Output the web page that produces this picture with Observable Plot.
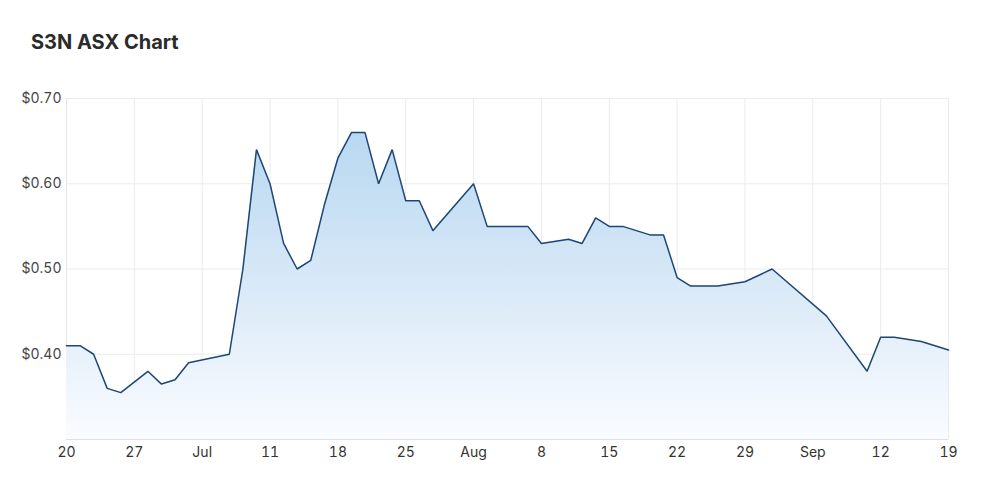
<!DOCTYPE html>
<html>
<head>
<meta charset="utf-8">
<script src="https://cdn.jsdelivr.net/npm/d3@7"></script>
<script src="https://cdn.jsdelivr.net/npm/@observablehq/plot@0.6"></script>
<style>
  html, body { margin: 0; padding: 0; background: #fff; }
  body { width: 1000px; height: 499px; position: relative; overflow: hidden; font-family: Inter, "Noto Sans", sans-serif; }
  #title { position: absolute; left: 31px; top: 30px; font-size: 20px; font-weight: 700; color: #2b2b2b; letter-spacing: 0; }
  #chart { position: absolute; left: 0; top: 70px; }
</style>
</head>
<body>
<div id="title">S3N ASX Chart</div>
<div id="chart"></div>
<script>
// Trading-day index (0 = Mon 20 Jun 2022, 5 trading days per week)
const tradingDay = [0, 1, 2, 3, 4, 6, 7, 8, 9, 12, 13, 14, 15, 16, 17, 18, 19, 20, 21, 22, 23, 24, 25, 26, 27, 30, 31, 34, 35, 37, 38, 39, 40, 41, 43, 44, 45, 46, 48, 50, 52, 56, 59, 60, 61, 63, 65];
const closePrice = [0.41, 0.41, 0.40, 0.36, 0.355, 0.38, 0.365, 0.37, 0.39, 0.40, 0.50, 0.64, 0.60, 0.53, 0.50, 0.51, 0.575, 0.63, 0.66, 0.66, 0.60, 0.64, 0.58, 0.58, 0.545, 0.60, 0.55, 0.55, 0.53, 0.535, 0.53, 0.56, 0.55, 0.55, 0.54, 0.54, 0.49, 0.48, 0.48, 0.485, 0.50, 0.445, 0.38, 0.42, 0.42, 0.415, 0.405];

// Weekly x ticks (Mondays) and their labels
const xTickDays = [0, 5, 10, 15, 20, 25, 30, 35, 40, 45, 50, 55, 60, 65];
const xTickLabels = ["20", "27", "Jul", "11", "18", "25", "Aug", "8", "15", "22", "29", "Sep", "12", "19"];

// Y ticks
const yTicks = [0.40, 0.50, 0.60, 0.70];
const yMin = 0.30, yMax = 0.70;

const data = tradingDay.map((d, i) => ({day: d, price: closePrice[i]}));
const labelOf = new Map(xTickDays.map((d, i) => [d, xTickLabels[i]]));

const gradientDefs = () => {
  const g = d3.create("svg:g");
  const grad = g.append("defs").append("linearGradient")
    .attr("id", "areaGrad").attr("x1", 0).attr("y1", 0).attr("x2", 0).attr("y2", 1);
  grad.append("stop").attr("offset", "0%").attr("stop-color", "#b8d8f1");
  grad.append("stop").attr("offset", "55%").attr("stop-color", "#dcebf8");
  grad.append("stop").attr("offset", "100%").attr("stop-color", "#fafcff");
  return g.node();
};

const chart = Plot.plot({
  width: 1000,
  height: 429,
  marginLeft: 66,
  marginRight: 52,
  marginTop: 28,
  marginBottom: 60,
  style: {fontFamily: "Inter, 'Noto Sans', sans-serif", fontSize: "14px", color: "#333", background: "#fff"},
  x: {domain: [0, 65]},
  y: {domain: [yMin, yMax]},
  marks: [
    gradientDefs,
    Plot.gridX(xTickDays, {stroke: "#ebebeb", strokeOpacity: 1}),
    Plot.gridY(yTicks, {stroke: "#ebebeb", strokeOpacity: 1}),
    Plot.ruleX([0], {stroke: "#e3e3e3"}),
    Plot.areaY(data, {x: "day", y1: () => yMin, y2: "price", fill: "url(#areaGrad)"}),
    Plot.ruleY([yMin], {stroke: "#e0e0e0"}),
    Plot.lineY(data, {x: "day", y: "price", stroke: "#1d4677", strokeWidth: 1.5, strokeLinejoin: "miter"}),
    Plot.axisX(xTickDays, {tickSize: 0, tickPadding: 8, fontSize: 14, fill: "#333", label: null, tickFormat: d => labelOf.get(d)}),
    Plot.axisY(yTicks, {tickSize: 0, tickPadding: 5, fontSize: 14, fill: "#444", label: null, tickFormat: d => "$" + d.toFixed(2)})
  ]
});
document.getElementById("chart").appendChild(chart);
</script>
</body>
</html>
